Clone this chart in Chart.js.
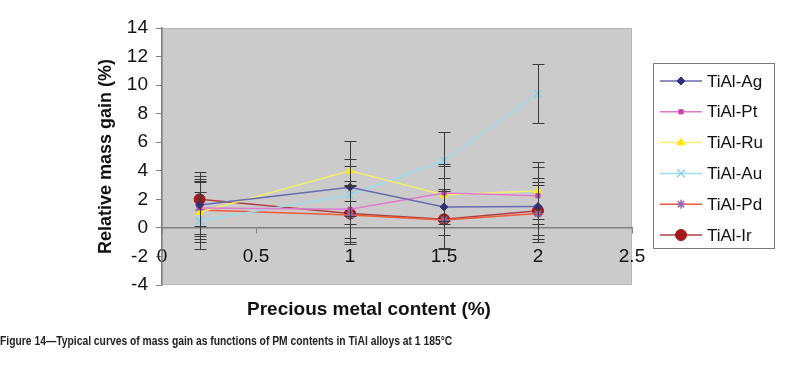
<!DOCTYPE html>
<html>
<head>
<meta charset="utf-8">
<script src="https://cdn.jsdelivr.net/npm/chart.js@4/dist/chart.umd.min.js"></script>
<style>
  body { margin: 0; background: #fff; }
  #wrap { position: relative; width: 802px; height: 368px; }
  #xTitle { position: absolute; left: 0; width: 738px; top: 298px; text-align: center;
    font: bold 19px "Liberation Sans", Arial, sans-serif; color: #111; }
  #caption { position: absolute; left: 0; top: 334px; white-space: nowrap;
    transform: scaleX(0.86); transform-origin: left top;
    font: bold 12px "Liberation Sans", Arial, sans-serif; color: #222; }
</style>
</head>
<body>
<div id="wrap">
  <canvas id="massChart" width="802" height="368"></canvas>
  <div id="xTitle">Precious metal content (%)</div>
  <div id="caption">Figure 14—Typical curves of mass gain as functions of PM contents in TiAl alloys at 1 185°C</div>
</div>
<script>
// precious metal content (%)
const pmContent = [0.2, 1, 1.5, 2];
const seriesNames = ['TiAl-Ag', 'TiAl-Pt', 'TiAl-Ru', 'TiAl-Au', 'TiAl-Pd', 'TiAl-Ir'];

// relative mass gain (%)
const gainAg = [1.6, 2.85, 1.47, 1.5];
const gainPt = [1.4, 1.3, 2.45, 2.25];
const gainRu = [1.1, 4.0, 2.3, 2.6];
const gainAu = [0.5, 2.3, 4.7, 9.4];
const gainPd = [1.25, 0.9, 0.55, 1.0];
const gainIr = [2.0, 1.0, 0.6, 1.2];

// error bars (+/-)
const errAg = [2, 2, 2, 2];
const errPt = [2, 2, 2, 2];
const errRu = [2.1, 2.1, 2, 2];
const errAu = [2, 2, 2, 2.05];
const errPd = [2, 2, 2, 2];
const errIr = [1.9, 2, 2, 2];

const yTicks = [-4, -2, 0, 2, 4, 6, 8, 10, 12, 14];
const xTicks = [0, 0.5, 1, 1.5, 2, 2.5];

const gains = [gainAg, gainPt, gainRu, gainAu, gainPd, gainIr];
const errs = [errAg, errPt, errRu, errAu, errPd, errIr];

const styles = [
  { line: '#6a6aae', point: '#2e2e8c', shape: 'rectRot', r: 4 },
  { line: '#e07ad0', point: '#cc44aa', shape: 'rect', r: 3 },
  { line: '#f3ee70', point: '#ffe800', shape: 'triangle', r: 4.5 },
  { line: '#9edcec', point: '#88d4e8', shape: 'crossRot', r: 5.5 },
  { line: '#ee5a3a', point: '#9a66b0', shape: 'star', r: 4.5 },
  { line: '#b04040', point: '#a31818', shape: 'circle', r: 5.5 }
];

const datasets = seriesNames.map((name, i) => ({
  label: name,
  data: pmContent.map((x, j) => ({ x: x, y: gains[i][j] })),
  err: errs[i],
  borderColor: styles[i].line,
  borderWidth: 1.5,
  pointStyle: styles[i].shape,
  pointRadius: styles[i].r,
  pointBackgroundColor: styles[i].point,
  pointBorderColor: styles[i].point,
  pointBorderWidth: styles[i].shape === 'crossRot' || styles[i].shape === 'star' ? 1.5 : 1,
  fill: false,
  tension: 0
}));

const plotBg = {
  id: 'plotBg',
  beforeDraw(chart) {
    const a = chart.chartArea, c = chart.ctx;
    c.save();
    c.fillStyle = '#cbcbcb';
    c.fillRect(a.left, a.top, a.right - a.left, a.bottom - a.top);
    c.strokeStyle = '#b8b8b8';
    c.lineWidth = 1;
    c.strokeRect(a.left + 0.5, a.top + 0.5, a.right - a.left - 1, a.bottom - a.top - 1);
    c.restore();
  }
};

const errorBars = {
  id: 'errorBars',
  afterDatasetsDraw(chart) {
    const c = chart.ctx, xs = chart.scales.x, ys = chart.scales.y;
    c.save();
    c.strokeStyle = '#3a3a3a';
    c.lineWidth = 1;
    chart.data.datasets.forEach(ds => {
      ds.data.forEach((p, j) => {
        const px = Math.round(xs.getPixelForValue(p.x)) + 0.5;
        const top = Math.round(ys.getPixelForValue(p.y + ds.err[j])) + 0.5;
        const bot = Math.round(ys.getPixelForValue(p.y - ds.err[j])) + 0.5;
        c.beginPath();
        c.moveTo(px, top); c.lineTo(px, bot);
        c.moveTo(px - 6, top); c.lineTo(px + 6, top);
        c.moveTo(px - 6, bot); c.lineTo(px + 6, bot);
        c.stroke();
      });
    });
    c.restore();
  }
};

const boxLegend = {
  id: 'boxLegend',
  afterDraw(chart) {
    const c = chart.ctx;
    const left = 653, top = 63, w = 121, h = 185, step = 30.8, first = 81;
    c.save();
    c.strokeStyle = '#7a7a7a';
    c.lineWidth = 1;
    c.strokeRect(left + 0.5, top + 0.5, w, h);
    c.font = '17px "Liberation Sans", Arial, sans-serif';
    c.textBaseline = 'middle';
    chart.data.datasets.forEach((ds, i) => {
      const y = first + i * step;
      c.strokeStyle = ds.borderColor;
      c.lineWidth = 1.5;
      c.beginPath();
      c.moveTo(660, y); c.lineTo(702, y);
      c.stroke();
      c.fillStyle = ds.pointBackgroundColor;
      c.strokeStyle = ds.pointBorderColor;
      c.lineWidth = ds.pointBorderWidth;
      Chart.helpers.drawPoint(c, { pointStyle: ds.pointStyle, radius: ds.pointRadius, rotation: 0, borderWidth: ds.pointBorderWidth }, 681, y);
      c.fillStyle = '#111';
      c.fillText(ds.label, 707, y + 1);
    });
    c.restore();
  }
};

new Chart(document.getElementById('massChart'), {
  type: 'line',
  data: { datasets: datasets },
  plugins: [plotBg, errorBars, boxLegend],
  options: {
    responsive: false,
    animation: false,
    layout: { padding: { left: 95, top: 28, right: 170, bottom: 83 } },
    plugins: { legend: { display: false }, tooltip: { enabled: false } },
    scales: {
      x: {
        type: 'linear',
        position: { y: 0 },
        min: 0,
        max: 2.5,
        afterBuildTicks: s => { s.ticks = xTicks.map(v => ({ value: v })); },
        ticks: { color: '#111', padding: 12, callback: v => String(v),
          font: { size: 19, family: '"Liberation Sans", Arial, sans-serif' } },
        grid: { drawOnChartArea: false, tickLength: 5, color: '#808080' },
        border: { color: '#808080', width: 1.5 }
      },
      y: {
        min: -4,
        max: 14,
        afterBuildTicks: s => { s.ticks = yTicks.map(v => ({ value: v })); },
        afterFit: s => { s.width = 67; },
        ticks: { color: '#111', padding: 8, font: { size: 19, family: '"Liberation Sans", Arial, sans-serif' } },
        grid: { drawOnChartArea: false, tickLength: 6, color: '#808080' },
        border: { color: '#808080', width: 1.5 },
        title: {
          display: true,
          text: 'Relative mass gain (%)',
          color: '#111',
          padding: { top: 0, bottom: 0 },
          font: { size: 18, weight: 'bold', family: '"Liberation Sans", Arial, sans-serif' }
        }
      }
    }
  }
});
</script>
</body>
</html>
